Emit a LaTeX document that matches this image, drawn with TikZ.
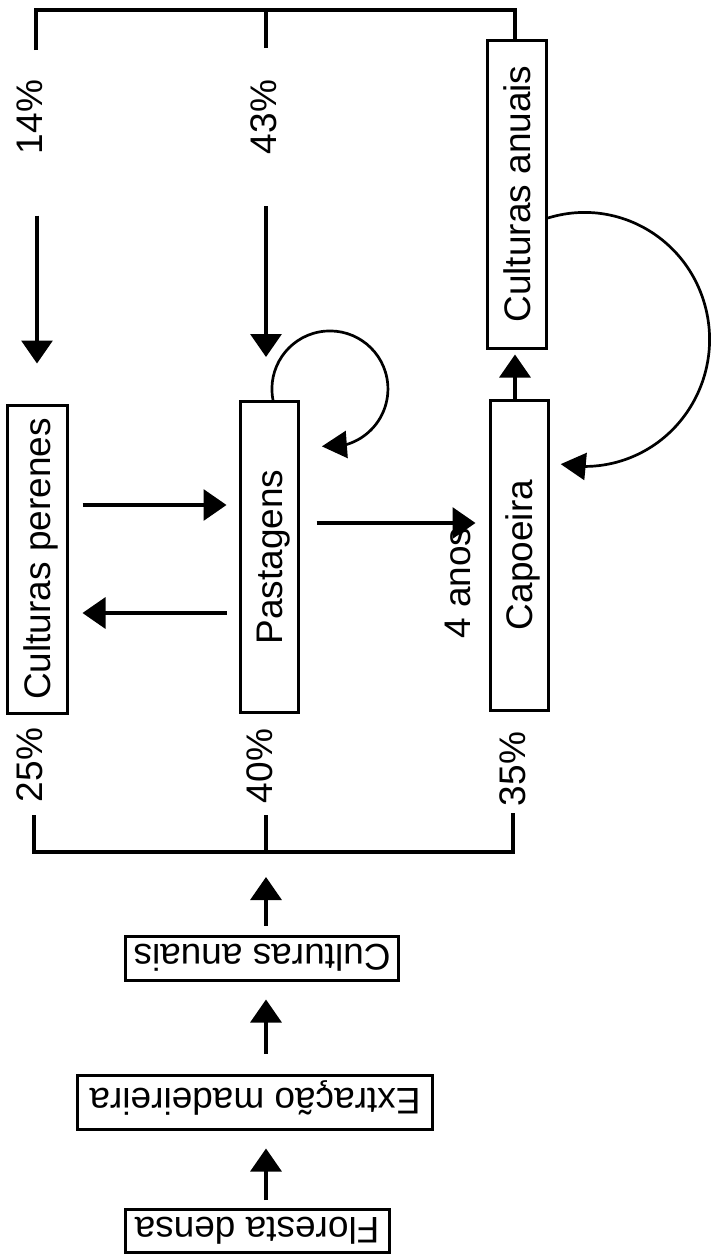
\documentclass[tikz,border=0pt]{standalone}
\usepackage{fontspec}
\setmainfont{Liberation Sans}
\usetikzlibrary{arrows.meta,bending}

\newcommand{\vtxt}[1]{\rotatebox{90}{\raisebox{0pt}[0.72em][0pt]{#1}}}
\newcommand{\utxt}[1]{\rotatebox{180}{\raisebox{0pt}[0.72em][0pt]{#1}}}

\tikzset{
  box/.style={draw,line width=3pt,inner sep=0pt},
  lbl/.style={inner sep=0pt},
  bracket/.style={line width=3.3pt},
  arr/.style={line width=3.3pt,-{Triangle[width=31pt,length=23pt]}},
  loopline/.style={line width=2.7pt,-{Triangle[width=27pt,length=25pt]}},
}

\begin{document}
\begin{tikzpicture}[x=1pt,y=1pt,font=\fontsize{37}{44}\selectfont]
    \useasboundingbox (0,0) rectangle (710,-1258);

    % Cycle boxes
    \node[box,minimum width=60pt,minimum height=308pt] (perenes) at (37,-559) {\vtxt{Culturas perenes}};
    \node[box,minimum width=58pt,minimum height=311pt] (pastagens) at (269,-557) {\vtxt{Pastagens}};
    \node[box,minimum width=58pt,minimum height=310pt] (capoeira) at (519,-555) {\vtxt{Capoeira}};
    \node[box,minimum width=59pt,minimum height=308pt] (anuaisA) at (517,-194) {\vtxt{Culturas anuais}};

    % Chain at the bottom (upside down)
    \node[box,minimum width=273pt,minimum height=44pt] (anuaisB) at (262,-958) {\utxt{Culturas anuais}};
    \node[box,minimum width=355pt,minimum height=54pt] (extracao) at (255,-1102) {\utxt{Extração madeireira}};
    \node[box,minimum width=264pt,minimum height=43pt] (floresta) at (257,-1231) {\utxt{Floresta densa}};

    % Percentages
    \node[lbl] (p14) at (29,-117) {\vtxt{14\%}};
    \node[lbl] (p43) at (263,-117) {\vtxt{43\%}};
    \node[lbl] (p25) at (29,-765) {\vtxt{25\%}};
    \node[lbl] (p40) at (259,-766) {\vtxt{40\%}};
    \node[lbl] (p35) at (512,-769) {\vtxt{35\%}};
    \node[lbl] (anos) at (457,-583) {\vtxt{4 anos}};

    % Top bracket
    \coordinate (topmid) at (266,-10);
    \coordinate (t14) at (36,-50);
    \coordinate (t43) at (266,-48);
    \draw[bracket] (t14) |- (topmid) -| ([xshift=-2pt]anuaisA.north);
    \draw[bracket] (t43) -- (topmid);

    % Bottom bracket
    \coordinate (hub) at (266,-852);
    \coordinate (b25) at (34,-815);
    \coordinate (b40) at (266,-815);
    \coordinate (b35) at (513,-813);
    \draw[bracket] (b25) |- (hub) -| (b35);
    \draw[bracket] (b40) -- (hub);

    % Chain arrows
    \draw[arr] ([xshift=9pt,yshift=8pt]floresta.north) -- ([xshift=11pt,yshift=-18pt]extracao.south);
    \draw[arr] ([xshift=11pt,yshift=20pt]extracao.north) -- ([xshift=4pt,yshift=-18pt]anuaisB.south);
    \draw[arr] ([xshift=4pt,yshift=9pt]anuaisB.north) -- ([yshift=-25pt]hub);

    % Arrows into the cycle
    \draw[arr] ([yshift=188pt]perenes.north) -- ([yshift=40pt]perenes.north);
    \draw[arr] ([xshift=-3pt,yshift=194pt]pastagens.north) -- ([xshift=-3pt,yshift=43pt]pastagens.north);

    % Cycle arrows
    \draw[arr] ([xshift=14pt,yshift=54pt]perenes.east) -- ([xshift=-12pt,yshift=52pt]pastagens.west);
    \draw[arr] ([xshift=-12pt,yshift=-56pt]pastagens.west) -- ([xshift=14pt,yshift=-54pt]perenes.east);
    \draw[arr] ([xshift=17pt,yshift=34pt]pastagens.east) -- ([xshift=-13pt,yshift=32pt]capoeira.west);
    \draw[arr] ([xshift=-4pt]capoeira.north) -- ([xshift=-2pt,yshift=-5pt]anuaisA.south);

    % Loops
    \draw[loopline] ([xshift=4pt]pastagens.north) arc[start angle=191,end angle=-98,radius=58];
    \draw[loopline] ([yshift=-24pt]anuaisA.east) arc[start angle=107,end angle=-101,x radius=125,y radius=127];
\end{tikzpicture}
\end{document}
